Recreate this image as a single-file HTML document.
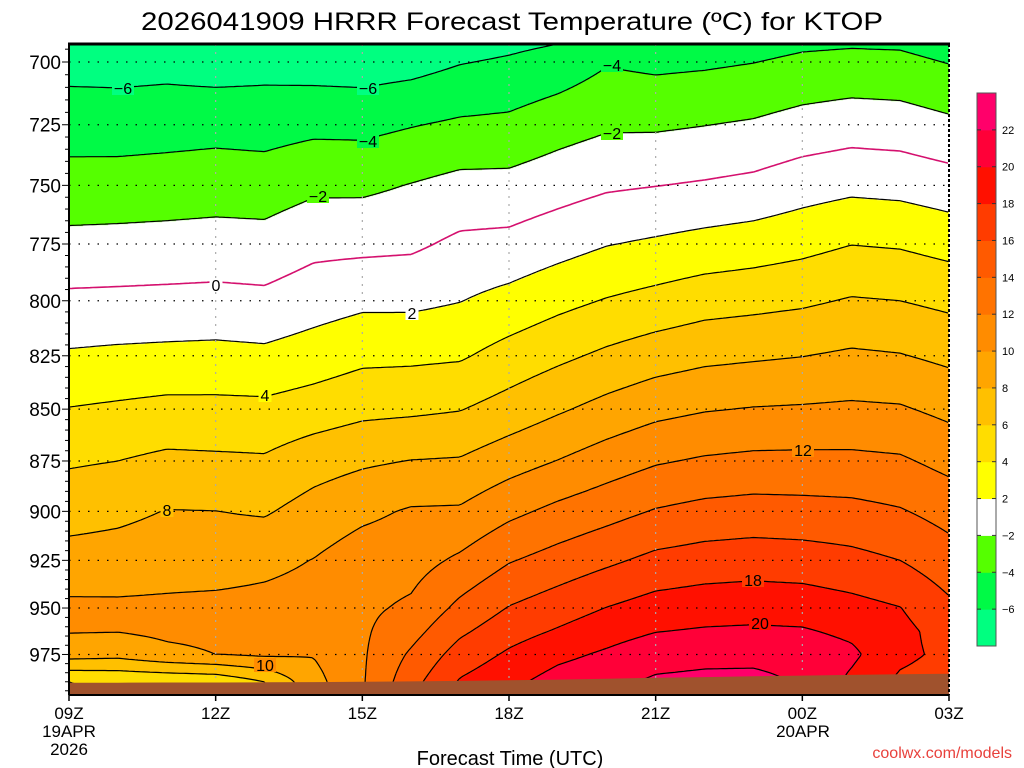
<!DOCTYPE html>
<html><head><meta charset="utf-8">
<style>
html,body{margin:0;padding:0;background:#fff;}
#wrap{position:relative;width:1024px;height:768px;overflow:hidden;font-family:"Liberation Sans",sans-serif;}
#field{position:absolute;left:0;top:0;}
#ov{position:absolute;left:0;top:0;}
</style></head>
<body>
<div id="wrap">
<canvas id="field" width="1024" height="768"></canvas>
<svg id="ov" width="1024" height="768" xmlns="http://www.w3.org/2000/svg">
<text x="512" y="30" text-anchor="middle" font-size="25" textLength="742" lengthAdjust="spacingAndGlyphs" fill="#000">2026041909 HRRR Forecast Temperature (ºC) for KTOP</text>
<g id="contours"></g>
<g id="grid"></g>
<g id="terrain"></g>
<g id="clabels"></g>
<g id="axes"></g>
<g id="cbar"></g>
<text x="510" y="765" text-anchor="middle" font-size="20">Forecast Time (UTC)</text>
<text x="1012" y="758" text-anchor="end" font-size="16" fill="#e8413c">coolwx.com/models</text>
</svg>
</div>
<script>
const hours=[9,10,11,12,13,14,15,16,17,18,19,20,21,22,23,24,25,26,27];
const levels=[690,700,725,750,775,800,825,850,875,900,925,950,962.5,975,990,1000];
const temperature=[
[-7.4,-6.7,-4.9,-3.2,-1.45,0.4,2.24,4.07,5.77,7.26,8.72,10.4,10.1,8.8,4.0,3.8],
[-7.5,-6.75,-4.93,-3.16,-1.38,0.46,2.4,4.3,6.0,7.56,8.84,10.35,10.05,8.6,4.2,4.0],
[-7.4,-6.65,-4.8,-3.06,-1.3,0.53,2.5,4.55,6.43,8.06,9.1,10.4,10.4,9.5,4.3,4.0],
[-7.5,-6.9,-4.67,-2.93,-1.2,0.6,2.57,4.53,6.34,8.02,9.15,10.5,10.5,10.0,4.5,4.2],
[-7.4,-6.7,-4.8,-3.0,-1.28,0.47,2.43,4.48,6.25,7.8,9.5,10.6,10.6,10.3,6.0,5.5],
[-7.8,-6.9,-4.5,-2.4,-0.55,1.1,2.94,4.94,7.15,8.77,10.05,10.8,10.6,10.1,9.3,9.2],
[-8.0,-7.0,-4.55,-2.4,-0.5,1.58,3.54,5.5,7.7,9.56,11.0,11.6,11.7,11.75,11.8,11.8],
[-7.8,-6.75,-4.1,-1.92,-0.35,1.57,3.6,5.65,8.05,10.2,11.2,12.35,13.3,14.3,15.3,15.5],
[-7.1,-6.1,-3.7,-1.4,0.4,1.95,3.77,5.92,8.17,10.26,12.35,14.5,15.65,16.85,18.2,18.5],
[-6.7,-5.75,-3.55,-1.39,0.56,2.64,4.75,6.8,9.16,11.52,13.86,16.1,17.2,18.3,19.5,19.7],
[-6.35,-5.2,-2.83,-0.83,1.24,3.44,5.58,7.75,10.05,12.5,14.77,17.05,18.2,19.5,20.8,21.0],
[-4.9,-4.15,-2.27,-0.27,1.92,4.12,6.38,8.64,10.98,13.3,15.63,18.05,19.2,20.3,21.5,21.7],
[-5.4,-4.45,-2.28,-0.04,2.29,4.64,7.05,9.42,11.8,14.14,16.5,18.83,19.95,21.2,22.3,22.5],
[-5.2,-4.3,-2.04,0.2,2.68,5.17,7.52,9.87,12.24,14.6,16.88,19.14,20.2,21.43,22.5,22.7],
[-5.0,-4.04,-1.78,0.5,2.98,5.4,7.74,10.1,12.47,14.8,17.05,19.26,20.3,21.4,22.6,22.8],
[-4.6,-3.62,-1.25,1.12,3.4,5.68,7.96,10.2,12.5,14.7,16.93,19.14,20.2,21.15,21.8,21.8],
[-4.5,-3.44,-0.92,1.51,3.96,6.16,8.3,10.33,12.47,14.57,16.57,18.65,19.6,20.4,19.6,19.4],
[-4.55,-3.53,-1.04,1.36,3.8,6.0,8.1,10.2,12.27,14.15,16.0,18.05,18.6,18.5,17.6,17.4],
[-5.1,-4.08,-1.58,0.9,3.3,5.54,7.56,9.5,11.4,13.3,14.84,16.4,17.1,17.5,17.0,16.9]
];
const surfacePressure=[990.6,990.5,990.4,990.4,990.3,990.2,990.0,989.8,989.5,989.2,988.8,988.3,987.8,987.4,987.0,986.6,986.2,985.9,985.6];
const contourLevels=[-6,-4,-2,0,2,4,6,8,10,12,14,16,18,20,22];
const pressureTicks=[700,725,750,775,800,825,850,875,900,925,950,975];
const timeTicks=["09Z","12Z","15Z","18Z","21Z","00Z","03Z"];
const timeTickHours=[9,12,15,18,21,24,27];
const bandEdges=[-8,-6,-4,-2,2,4,6,8,10,12,14,16,18,20,22];
const bandColors=["#00ff80","#00fa46","#55ff00","#ffffff","#ffff00","#ffdd00","#ffc000","#ffa500","#ff8c00","#ff7300","#ff5a00","#ff3c00","#ff1000","#ff0038","#ff006a"];
const cbarLabels=["22","20","18","16","14","12","10","8","6","4","2","−2","−4","−6"];

const X0=69,X1=949,Y0=44,Y1=695;
const xOf=h=>X0+(h-9)*(X1-X0)/18;
const yOf=p=>62+1788*Math.log(p/700);
const hOfX=x=>9+(x-X0)*18/(X1-X0);
const levY=levels.map(yOf);
const NS="http://www.w3.org/2000/svg";
function mk(tag,attrs,parent){const e=document.createElementNS(NS,tag);for(const k in attrs)e.setAttribute(k,attrs[k]);parent.appendChild(e);return e;}

function tempAt(x,y){
  let h=hOfX(x)-9; h=Math.max(0,Math.min(hours.length-1.0001,h));
  const i=Math.floor(h), fx=h-i;
  let j=0; while(j<levY.length-2 && y>levY[j+1]) j++;
  let fy=(y-levY[j])/(levY[j+1]-levY[j]); fy=Math.max(-2,Math.min(1.5,fy));
  const a=temperature[i][j]+(temperature[i][j+1]-temperature[i][j])*fy;
  const b=temperature[i+1][j]+(temperature[i+1][j+1]-temperature[i+1][j])*fy;
  return a+(b-a)*fx;
}
function bandIndex(t){let k=0; for(let i=1;i<bandEdges.length;i++){ if(t>=bandEdges[i]) k=i; } return k;}
function hex(c){return [parseInt(c.substr(1,2),16),parseInt(c.substr(3,2),16),parseInt(c.substr(5,2),16)];}
const rgbBands=bandColors.map(hex);

const cv=document.getElementById('field');
const ctx=cv.getContext('2d');
const img=ctx.createImageData(X1-X0,Y1-Y0);
for(let y=Y0;y<Y1;y++){for(let x=X0;x<X1;x++){
  const c=rgbBands[bandIndex(tempAt(x,y))]; const o=((y-Y0)*(X1-X0)+(x-X0))*4;
  img.data[o]=c[0];img.data[o+1]=c[1];img.data[o+2]=c[2];img.data[o+3]=255;}}
ctx.putImageData(img,X0,Y0);

const cg=document.getElementById('contours');
const DX=3,DY=2;
const gx=[],gy=[];for(let x=X0;x<=X1;x+=DX)gx.push(x);for(let y=Y0;y<=Y1;y+=DY)gy.push(y);
const G=gy.map(y=>gx.map(x=>tempAt(x,y)));
contourLevels.forEach(L=>{
  let d="";
  for(let r=0;r<gy.length-1;r++){for(let c=0;c<gx.length-1;c++){
    const v=[G[r][c],G[r][c+1],G[r+1][c+1],G[r+1][c]];
    const P=[[gx[c],gy[r]],[gx[c+1],gy[r]],[gx[c+1],gy[r+1]],[gx[c],gy[r+1]]];
    const pts=[];
    for(let e=0;e<4;e++){const a=v[e],b=v[(e+1)%4];
      if((a<L)!==(b<L)){const f=(L-a)/(b-a);const pa=P[e],pb=P[(e+1)%4];pts.push([pa[0]+(pb[0]-pa[0])*f,pa[1]+(pb[1]-pa[1])*f]);}}
    for(let q=0;q+1<pts.length;q+=2) d+="M"+pts[q][0].toFixed(1)+" "+pts[q][1].toFixed(1)+"L"+pts[q+1][0].toFixed(1)+" "+pts[q+1][1].toFixed(1);
  }}
  const p=mk('path',{d:d,fill:"none",stroke:L===0?"#d4106e":"#000","stroke-width":L===0?1.6:1.2},cg);
  if(L<0)p.setAttribute('stroke-dasharray','4,3');
  
  
});

const gg=document.getElementById('grid');
pressureTicks.forEach(p=>{const l=mk('line',{x1:X0,x2:X1,y1:yOf(p),y2:yOf(p),stroke:"#000","stroke-width":1.2,"stroke-dasharray":"1.5,8"},gg);
  });
timeTickHours.slice(1,-1).forEach(h=>{const l=mk('line',{x1:xOf(h),x2:xOf(h),y1:Y0,y2:Y1,stroke:"#aaa","stroke-width":1.2,"stroke-dasharray":"2,6"},gg);
  });

const tg=document.getElementById('terrain');
let td="M"+X0+" "+Y1;
hours.forEach((h,i)=>{td+="L"+xOf(h).toFixed(1)+" "+yOf(surfacePressure[i]).toFixed(1);});
td+="L"+X1+" "+Y1+"Z";
const tp=mk('path',{d:td,fill:"#a0522d"},tg);


const lg=document.getElementById('clabels');
[["−6",123,88],["−6",368,88],["−4",368,141],["−4",612,65],["−2",318,196],["−2",612,133],["0",216,285],["2",412,313],["4",265,395],["8",167,510],["10",265,665],["12",803,450],["18",753,580],["20",760,623]].forEach(a=>{
  const w=a[0].length*9+4;
  const bgc=bandColors[bandIndex(tempAt(a[1],a[2]-9))];
  const r=mk('rect',{x:a[1]-w/2,y:a[2]-7,width:w,height:14,fill:bgc},lg);
  
  const t=mk('text',{x:a[1],y:a[2]+6,"text-anchor":"middle","font-size":16,fill:"#000"},lg);t.textContent=a[0];
  });

const ag=document.getElementById('axes');
mk('line',{x1:X0-1,x2:X1+1,y1:Y0,y2:Y0,stroke:"#000","stroke-width":3},ag);
mk('line',{x1:X0,x2:X0,y1:Y0,y2:Y1,stroke:"#000","stroke-width":2},ag);
mk('line',{x1:X1,x2:X1,y1:Y0,y2:Y1,stroke:"#000","stroke-width":2,"stroke-dasharray":"3,2"},ag);
mk('line',{x1:X0,x2:X1,y1:Y1,y2:Y1,stroke:"#000","stroke-width":2},ag);
for(let p=695;p<=995;p+=5){const y=yOf(p);if(y<Y0||y>Y1)continue;
  const major=pressureTicks.indexOf(p)>=0;
  mk('line',{x1:X0-(major?7:4),x2:X0,y1:y,y2:y,stroke:"#000","stroke-width":1},ag);}
pressureTicks.forEach(p=>{const t=mk('text',{x:61,y:yOf(p)+7,"text-anchor":"end","font-size":19},ag);t.textContent=p;
  });
timeTickHours.forEach((h,i)=>{const x=xOf(h);
  mk('line',{x1:x,x2:x,y1:Y1,y2:Y1+6,stroke:"#000","stroke-width":1.5},ag);
  const t=mk('text',{x:x,y:719,"text-anchor":"middle","font-size":17},ag);t.textContent=timeTicks[i];
  });
[["19APR",69,737],["2026",69,755],["20APR",803,737]].forEach(a=>{const t=mk('text',{x:a[1],y:a[2],"text-anchor":"middle","font-size":17},ag);t.textContent=a[0];
  });

const bg=document.getElementById('cbar');
const CB0=93,CB1=646,BH=(CB1-CB0)/bandColors.length;
for(let i=0;i<bandColors.length;i++){
  const r=mk('rect',{x:977,y:(CB1-(i+1)*BH).toFixed(2),width:19,height:(BH+0.5).toFixed(2),fill:bandColors[i]},bg);
  }
mk('rect',{x:977,y:CB0,width:19,height:CB1-CB0,fill:"none",stroke:"#555","stroke-width":1},bg);
cbarLabels.forEach((s,i)=>{const y=CB0+(i+1)*BH;
  mk('line',{x1:977,x2:981,y1:y,y2:y,stroke:"#333"},bg);mk('line',{x1:992,x2:996,y1:y,y2:y,stroke:"#333"},bg);
  const t=mk('text',{x:1002,y:y+4,"font-size":11},bg);t.textContent=s;
  });
</script>
</body></html>
